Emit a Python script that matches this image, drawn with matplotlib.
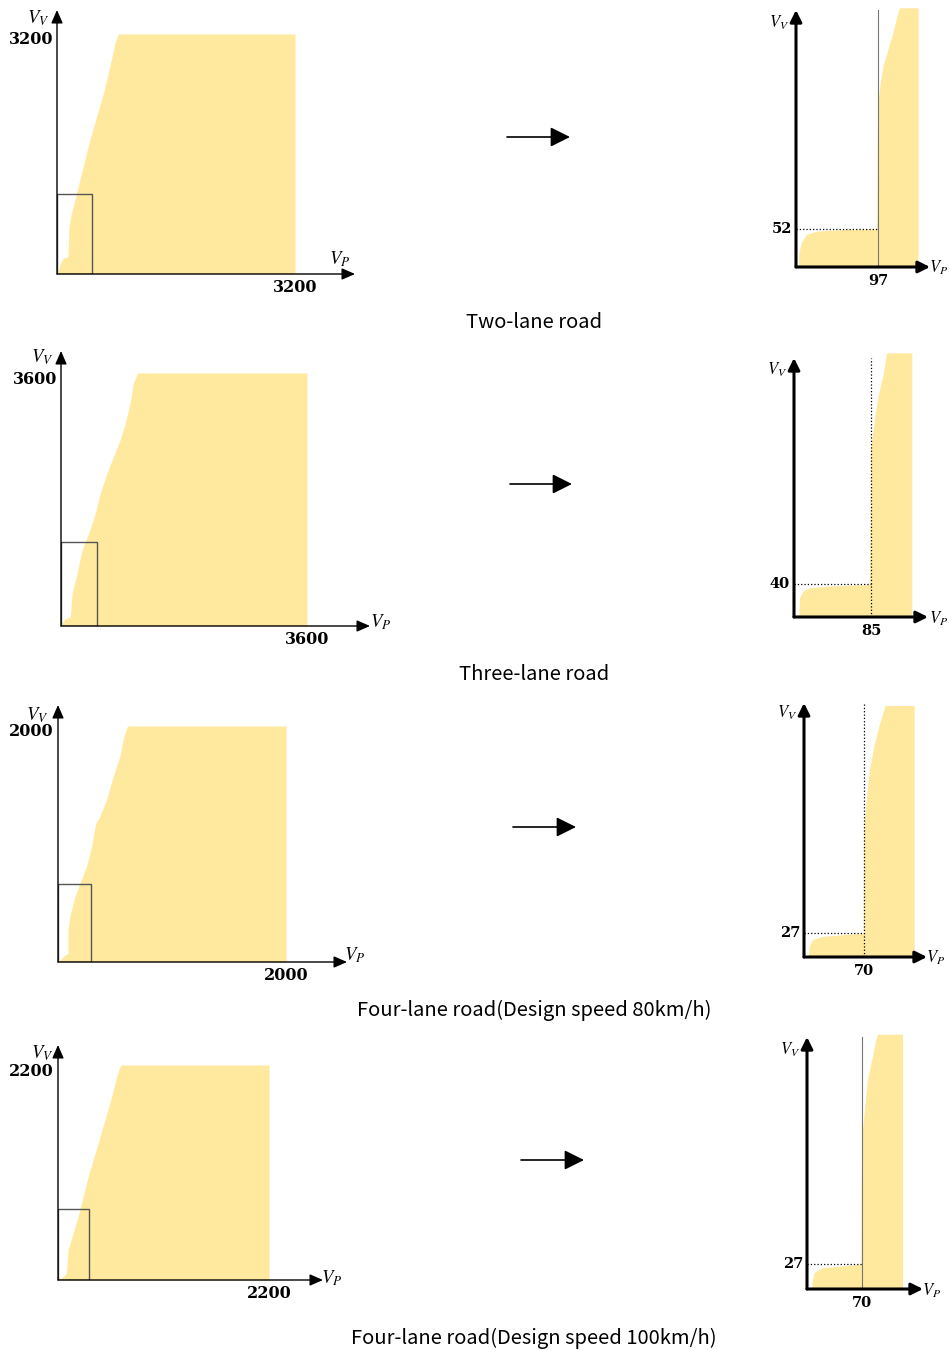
import matplotlib
matplotlib.use("Agg")
import matplotlib.pyplot as plt
from matplotlib.patches import Rectangle

plt.rcParams['mathtext.fontset'] = 'stix'

W, H = 950, 1350
FILL = '#FFE99E'

#--- Road cases (captions)
captions = ["Two-lane road", "Three-lane road",
            "Four-lane road(Design speed 80km/h)",
            "Four-lane road(Design speed 100km/h)"]

#--- Left panels: full range (max V_P = max V_V) and the left edge of the feasible region
left_max = [3200, 3600, 2000, 2200]
left_box = [(477, 1067), (534, 1198), (293, 665), (321, 727)]

left1_vp = [0, 13, 46, 81, 148, 162, 194, 252, 306, 373, 441, 531, 624, 710, 778, 822]
left1_vv = [0, 31, 142, 209, 231, 631, 809, 1031, 1253, 1520, 1787, 2097, 2409, 2764, 3076, 3200]

left2_vp = [0, 15, 63, 136, 161, 234, 307, 404, 501, 574, 672, 768, 866, 939, 1012, 1060, 1119]
left2_vv = [0, 34, 105, 128, 462, 747, 1080, 1318, 1604, 1889, 2174, 2411, 2649, 2887, 3173, 3458, 3600]

left3_vp = [0, 15, 59, 88, 88, 103, 147, 191, 249, 293, 331, 366, 425, 483, 542, 577, 609]
left3_vv = [0, 14, 57, 71, 269, 382, 552, 665, 806, 976, 1175, 1231, 1373, 1571, 1740, 1910, 2000]

left4_vp = [0, 35, 87, 105, 157, 209, 262, 314, 366, 419, 489, 559, 611, 653]
left4_vv = [0, 17, 68, 307, 478, 648, 853, 1058, 1228, 1399, 1638, 1876, 2081, 2200]

left_vp = [left1_vp, left2_vp, left3_vp, left4_vp]
left_vv = [left1_vv, left2_vv, left3_vv, left4_vv]

#--- Right panels: zoom of the small box, thresholds
right_tick_vp = [97, 85, 70, 70]
right_tick_vv = [52, 40, 27, 27]
right_edge = [145, 130.6, 129.2, 122.2]
right_top = [354, 319.6, 282.4, 274.6]

# low part (left edge + top curve)
low1_vp = [3.5, 3.9, 6.7, 12.7, 24.5, 56, 96]
low1_vv = [0, 18.7, 32.4, 43.8, 48.3, 50.6, 51.6]
low2_vp = [5.9, 6.6, 10.3, 17.7, 36.1, 83.9]
low2_vv = [0, 22.7, 30.7, 34.8, 36.7, 38.8]
low3_vp = [5.8, 6.7, 10.5, 22.2, 45.5, 69.7]
low3_vv = [0, 11.6, 19, 22.6, 24.5, 26.3]
low4_vp = [6.9, 6.9, 9.8, 20.4, 45.8, 69.2]
low4_vv = [0, 6.5, 17.3, 22.7, 24.4, 26.2]

# tall part (left edge going up)
high1_vp = [97, 100.2, 103.3, 109.2, 115.1, 119.8, 123]
high1_vv = [219, 251, 274, 297, 320, 342, 354]
high2_vp = [85, 87.5, 91.3, 94.9, 99.3, 102.3, 103]
high2_vv = [202, 222.7, 255, 275, 295, 317.6, 319.6]
high3_vp = [70, 72.8, 76.7, 82.5, 88.3, 94.1, 95]
high3_vv = [140, 172.7, 209, 238.5, 260.5, 278.8, 282.4]
high4_vp = [70, 73.4, 77.6, 84, 88.3, 90.4]
high4_vv = [160, 190, 226, 251, 269, 274.6]

low_vp = [low1_vp, low2_vp, low3_vp, low4_vp]
low_vv = [low1_vv, low2_vv, low3_vv, low4_vv]
high_vp = [high1_vp, high2_vp, high3_vp, high4_vp]
high_vv = [high1_vv, high2_vv, high3_vv, high4_vv]

#--- Layout (pixels)
# left: origin, x px of max, y px of max, arrow tip x, arrow tip y
left_layout = [((57, 274), 295, 34, 355, 10),
               ((61, 626), 307, 373, 370, 351),
               ((58, 962), 286, 726, 347, 705),
               ((58, 1280), 269, 1065, 323, 1045)]
# right: origin, x px of tick, y px of tick, arrow tip x, arrow tip y
right_layout = [((796, 267), 878, 229, 930, 10),
                ((794, 617), 871, 584, 928, 358),
                ((804, 957), 864, 933, 927, 703),
                ((807, 1289), 862, 1264, 923, 1037)]
vline_solid = [True, False, False, True]
left_vlabels = [((38, 18), (340, 259)), ((42, 357), (381, 622)),
                ((37, 715), (355, 955)), ((42, 1053), (332, 1278))]
right_vlabels = [((779, 23), (939, 268)), ((777, 370), (939, 619)),
                 ((787, 713), (936, 958)), ((790, 1050), (932, 1291))]
mid_arrows = [(507, 570, 137), (510, 572, 484), (513, 576, 827), (521, 584, 1160)]
caption_pos = [(534, 322), (534, 675), (534, 1010), (534, 1338)]

fig = plt.figure(figsize=(W / 100, H / 100), dpi=100)


def px_axes(x0, y0, x1, y1):
    #--- x0/x1 left/right, y0 top, y1 bottom in pixels from top-left
    ax = fig.add_axes([x0 / W, 1 - y1 / H, (x1 - x0) / W, (y1 - y0) / H])
    ax.axis('off')
    return ax


def fig_text(x, y, s, **kw):
    fig.text(x / W, 1 - y / H, s, ha='center', va='center', **kw)


tick_font = dict(family='DejaVu Serif', weight='bold')

#--- Left panels
for i in range(4):
    (ox, oy), xm_px, ym_py, ax_x, ax_y = left_layout[i]
    vmax = left_max[i]
    sx = (xm_px - ox) / vmax
    sy = (oy - ym_py) / vmax
    ax = px_axes(ox, ax_y, ax_x, oy)
    ax.set_xlim(0, (ax_x - ox) / sx)
    ax.set_ylim(0, (oy - ax_y) / sy)

    ax.fill_betweenx(left_vv[i], left_vp[i], vmax, color=FILL, lw=0)
    bw, bh = left_box[i]
    ax.add_patch(Rectangle((0, 0), bw, bh, fill=False, ec='#555555', lw=1.0))

    arrow = dict(arrowstyle='-|>,head_length=0.8,head_width=0.35', color='black',
                 lw=1.0, shrinkA=0, shrinkB=0, mutation_scale=10)
    ax.annotate('', xy=(1, 0), xycoords='axes fraction', xytext=(0, 0), arrowprops=arrow)
    ax.annotate('', xy=(0, 1), xycoords='axes fraction', xytext=(0, 0), arrowprops=arrow)

    ax.annotate(str(vmax), xy=(0, vmax), xytext=(-4, -6), textcoords='offset pixels',
                ha='right', va='center', fontsize=11.5, **tick_font, annotation_clip=False)
    ax.annotate(str(vmax), xy=(vmax, 0), xytext=(0, -13), textcoords='offset pixels',
                ha='center', va='center', fontsize=11.5, **tick_font, annotation_clip=False)

    (vx, vy), (px_, py_) = left_vlabels[i]
    fig_text(vx, vy, r'$V_V$', fontsize=13.5)
    fig_text(px_, py_, r'$V_P$', fontsize=13.5)

#--- Right panels
for i in range(4):
    (ox, oy), tx, ty, ax_x, ax_y = right_layout[i]
    tvp, tvv = right_tick_vp[i], right_tick_vv[i]
    sx = (tx - ox) / tvp
    sy = (oy - ty) / tvv
    ax = px_axes(ox, ax_y, ax_x, oy)
    ax.set_xlim(0, (ax_x - ox) / sx)
    ax.set_ylim(0, (oy - ax_y) / sy)

    xs = low_vp[i] + high_vp[i] + [right_edge[i], right_edge[i]]
    ys = low_vv[i] + high_vv[i] + [right_top[i], 0]
    ax.fill(xs, ys, color=FILL, lw=0, clip_on=False)

    ytop = (oy - ax_y) / sy
    ax.plot([0, tvp], [tvv, tvv], ls=':', color='black', lw=0.9)
    if vline_solid[i]:
        ax.plot([tvp, tvp], [0, ytop], color='#777777', lw=0.8, clip_on=False)
    else:
        ax.plot([tvp, tvp], [0, ytop], ls=':', color='black', lw=0.9, clip_on=False)

    arrow = dict(arrowstyle='-|>,head_length=0.7,head_width=0.35', color='black',
                 lw=2.2, shrinkA=0, shrinkB=0, mutation_scale=10)
    ax.annotate('', xy=(1, 0), xycoords='axes fraction', xytext=(0, 0), arrowprops=arrow)
    ax.annotate('', xy=(0, 1), xycoords='axes fraction', xytext=(0, 0), arrowprops=arrow)

    ax.annotate(str(tvv), xy=(0, tvv), xytext=(-4, 0), textcoords='offset pixels',
                ha='right', va='center', fontsize=10.5, **tick_font, annotation_clip=False)
    ax.annotate(str(tvp), xy=(tvp, 0), xytext=(0, -14), textcoords='offset pixels',
                ha='center', va='center', fontsize=10.5, **tick_font, annotation_clip=False)

    (vx, vy), (px_, py_) = right_vlabels[i]
    fig_text(vx, vy, r'$V_V$', fontsize=12)
    fig_text(px_, py_, r'$V_P$', fontsize=12)

#--- Middle arrows
for x0, x1, y in mid_arrows:
    fig.add_artist(matplotlib.patches.FancyArrowPatch(
        (x0, H - y), (x1, H - y), transform=None,
        arrowstyle='-|>,head_length=1.0,head_width=0.5', mutation_scale=12,
        color='black', lw=1.2, shrinkA=0, shrinkB=0))

#--- Captions
for (cx, cy), text in zip(caption_pos, captions):
    fig_text(cx, cy, text, fontsize=14.5, family=['Noto Sans CJK KR', 'DejaVu Sans'])

fig.savefig("out.png", dpi=100)
